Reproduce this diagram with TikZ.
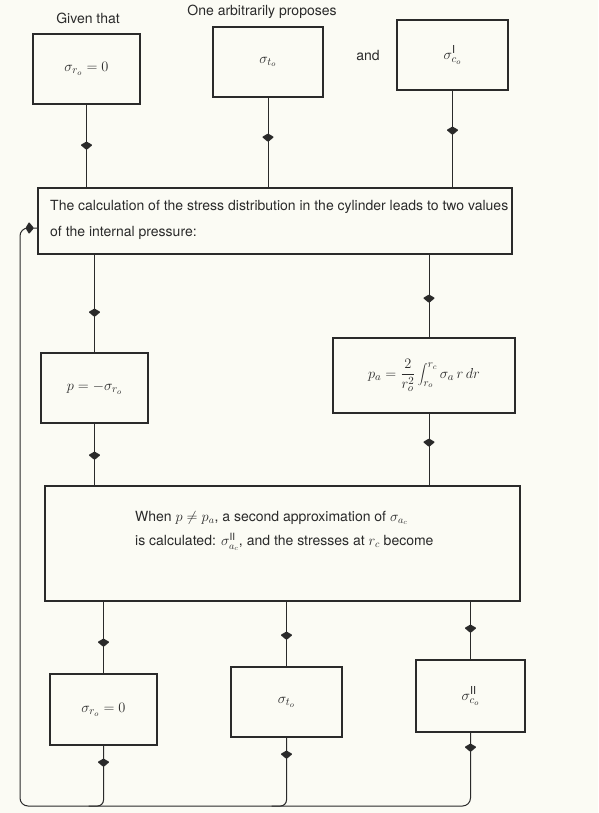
\documentclass[tikz,border=0pt]{standalone}
\usepackage{fontspec}
\setmainfont{TeX Gyre Heros}
\DeclareMathSizes{15}{15}{11}{8}
\DeclareMathSizes{14}{14}{10}{7}
\usetikzlibrary{calc}
\definecolor{ink}{HTML}{2A2A2A}
\definecolor{bg}{HTML}{FBFBF4}
\begin{document}
\begin{tikzpicture}[x=1pt,y=-1pt,
  box/.style={draw=ink, line width=1.1pt, inner sep=0pt, text=ink, font=\fontsize{15}{18}\selectfont},
  link/.style={draw=ink, line width=1pt},
  txt/.style={text=ink, font=\fontsize{14}{17}\selectfont, inner sep=0pt},
  dia/.pic={\fill[ink, rounded corners=0.8pt] (-6,0) -- (0,-3.5) -- (6,0) -- (0,5) -- cycle;},
  diaR/.pic={\fill[ink, rounded corners=0.8pt] (0,-6) -- (-3.5,0) -- (0,6) -- (5,0) -- cycle;}]
\fill[bg] (0,0) rectangle (598,813);
\useasboundingbox (0,0) rectangle (598,813);

% top row
\node[txt] (l1) at (88,18) {Given that};
\node[txt] (l2) at (262,12) {One arbitrarily proposes};
\node[txt] (land) at (368,56) {and};
\node[box, minimum width=107pt, minimum height=70pt] (b1) at (86.5,69) {$\sigma_{r_o}=0$};
\node[box, minimum width=110pt, minimum height=70pt] (b2) at (268,62) {$\sigma_{t_o}$};
\node[box, minimum width=111pt, minimum height=70pt] (b3) at (452.5,55) {$\sigma^{\mathrm{I}}_{c_o}$};

% first big box
\node[box, minimum width=474pt, minimum height=66pt] (big1) at (275,221) {};
\node[txt, anchor=west] (t1a) at (50,207) {The calculation of the stress distribution in the cylinder leads to two values};
\node[txt, anchor=west] (t1b) at (50,233) {of the internal pressure:};

% pressure boxes
\node[box, minimum width=107pt, minimum height=70pt] (pb) at (94.5,388) {$p=-\sigma_{r_o}$};
\node[box, minimum width=182pt, minimum height=75pt] (pa) at (424,375.5)
  {$\displaystyle p_a=\frac{2}{r_o^2}\int_{r_o}^{r_c}\sigma_a\, r\,dr$};

% second big box
\node[box, minimum width=475pt, minimum height=115pt] (big2) at (282.5,543.5) {};
\node[txt, anchor=west] (t2a) at (135,518) {When $p\neq p_a$, a second approximation of $\sigma_{a_c}$};
\node[txt, anchor=west] (t2b) at (135,542) {is calculated: $\sigma^{\mathrm{II}}_{a_c}$, and the stresses at $r_c$ become};

% bottom boxes
\node[box, minimum width=107pt, minimum height=71pt] (bA) at (103.5,709.5) {$\sigma_{r_o}=0$};
\node[box, minimum width=111pt, minimum height=70pt] (bB) at (286.5,702) {$\sigma_{t_o}$};
\node[box, minimum width=109pt, minimum height=72pt] (bC) at (470.5,696) {$\sigma^{\mathrm{II}}_{c_o}$};

\coordinate (bot) at (20,806);
\coordinate (fb) at (20,228);

% connectors
\draw[link] (b1.south) -- (b1.south |- big1.north);
\draw[link] (b2.south) -- (b2.south |- big1.north);
\draw[link] (b3.south) -- (b3.south |- big1.north);
\draw[link] (pb.north |- big1.south) -- (pb.north);
\draw[link] ([xshift=5pt]pa.north |- big1.south) -- ([xshift=5pt]pa.north);
\draw[link] (pb.south) -- (pb.south |- big2.north);
\draw[link] ([xshift=5pt]pa.south) -- ([xshift=5pt]pa.south |- big2.north);
\draw[link] (bA.north |- big2.south) -- (bA.north);
\draw[link] (bB.north |- big2.south) -- (bB.north);
\draw[link] (bC.north |- big2.south) -- (bC.north);
\draw[link, rounded corners=8pt] (bC.south) -- (bC.south |- bot) -- (bot) -- (fb) -- (big1.west |- fb);
\draw[link, rounded corners=6pt] (bB.south) -- (bB.south |- bot) -- ([xshift=-15pt]bB.south |- bot);
\draw[link, rounded corners=6pt] (bA.south) -- (bA.south |- bot) -- ([xshift=-15pt]bA.south |- bot);

% arrow marks
\pic at (b1.south |- 0,145) {dia};
\pic at (b2.south |- 0,137) {dia};
\pic at (b3.south |- 0,130) {dia};
\pic at (pb.north |- 0,312) {dia};
\pic at ([xshift=5pt]pa.north |- 0,298) {dia};
\pic at (pb.south |- 0,455) {dia};
\pic at ([xshift=5pt]pa.south |- 0,442) {dia};
\pic at (bA.north |- 0,642) {dia};
\pic at (bB.north |- 0,635) {dia};
\pic at (bC.north |- 0,628) {dia};
\pic at (bA.south |- 0,762) {dia};
\pic at (bB.south |- 0,754) {dia};
\pic at (bC.south |- 0,747) {dia};
\pic at (29,228) {diaR};
\end{tikzpicture}
\end{document}
